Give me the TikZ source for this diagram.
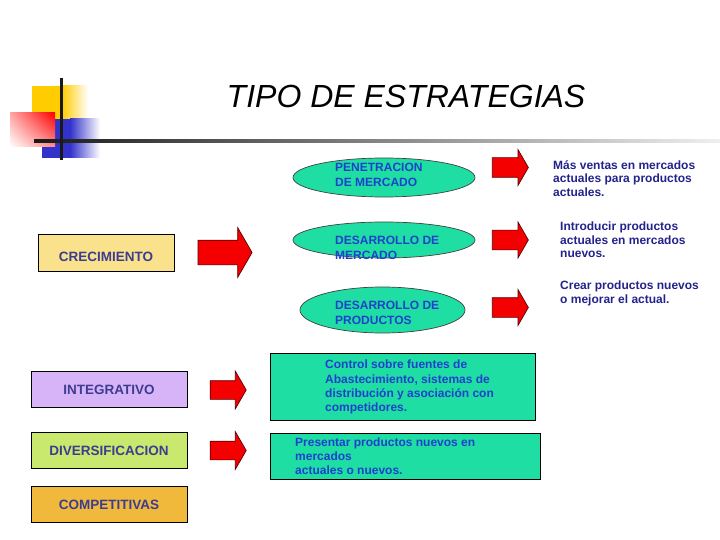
\documentclass[tikz,border=0pt]{standalone}
\usepackage{fontspec}
\setmainfont{Liberation Sans}
\definecolor{ovalgreen}{RGB}{30,222,164}
\definecolor{ovalblue}{RGB}{30,65,205}
\definecolor{boxnavy}{RGB}{60,60,145}
\definecolor{notenavy}{RGB}{35,35,140}
\definecolor{crecyellow}{RGB}{250,225,140}
\definecolor{integlila}{RGB}{215,180,248}
\definecolor{diverlime}{RGB}{200,232,110}
\definecolor{compeorange}{RGB}{240,185,60}
\definecolor{arrowred}{RGB}{245,0,0}
\definecolor{arrowedge}{RGB}{90,0,0}
\definecolor{logoyellow}{RGB}{255,204,0}
\definecolor{logoblue}{RGB}{51,51,204}
\usepackage{tikz}
\usetikzlibrary{shapes.geometric,shapes.arrows,shadings,positioning}

\begin{document}
\begin{tikzpicture}[x=1pt, y=-1pt,
    catbox/.style={draw=black, line width=0.9pt, minimum width=156, minimum height=36, inner sep=0,
      font=\fontsize{13.5}{16}\selectfont\bfseries, text=boxnavy},
    oval/.style={ellipse, draw=black!75, fill=ovalgreen, line width=0.7pt, inner sep=0},
    ovallabel/.style={anchor=west, align=left, inner sep=0, font=\fontsize{12}{15}\selectfont\bfseries, text=ovalblue},
    infobox/.style={draw=black, fill=ovalgreen, line width=0.9pt, inner sep=0},
    infolabel/.style={anchor=west, align=left, inner sep=0, font=\fontsize{12}{14.2}\selectfont\bfseries, text=ovalblue},
    note/.style={anchor=west, align=left, inner sep=0, font=\fontsize{12}{13.5}\selectfont\bfseries, text=notenavy},
    redarrow/.style={single arrow, draw=arrowedge, fill=arrowred, line width=0.7pt, inner xsep=0,
      single arrow tip angle=120, single arrow head indent=0}]
  \useasboundingbox (0,0) rectangle (720,540);
  \fill[white] (0,0) rectangle (720,540);

  % logo
  \fill[logoyellow] (32,86) rectangle (62,119);
  \shade[left color=logoyellow, right color=white] (62,86) rectangle (88,119);
  \fill[logoblue] (42,119) rectangle (70,158);
  \shade[left color=logoblue, right color=white] (70,119) rectangle (100,158);
  \shade[upper right=red, upper left=red!35, lower left=white, lower right=red!45] (10,113) rectangle (55,147);
  \shade[left color=black!90, right color=black!6] (34,139.5) rectangle (720,142.5);
  \fill[black!90] (59.5,78) rectangle (62.5,160);

  \node[font=\fontsize{32}{36}\selectfont\itshape] (title) at (406,96) {TIPO DE ESTRATEGIAS};

  % left column
  \node[catbox, fill=crecyellow, minimum width=136, minimum height=37, text height=17, text depth=0] (crec) at (106,252.5) {CRECIMIENTO};
  \node[catbox, fill=integlila] (integ) at (109,389.5) {INTEGRATIVO};
  \node[catbox, fill=diverlime] (diver) at (109,450.5) {DIVERSIFICACION};
  \node[catbox, fill=compeorange] (compe) at (109,504.5) {COMPETITIVAS};

  \node[redarrow, minimum height=54, inner ysep=12, single arrow head extend=12.5] (bigarrow) at (221.5,252.5) {};
  \node[redarrow, minimum height=36, inner ysep=9, single arrow head extend=9.5] (integarrow) at (225.5,390) {};
  \node[redarrow, minimum height=36, inner ysep=9, single arrow head extend=9.5] (diverarrow) at (225.5,450.5) {};

  % ovals
  \node[oval, minimum width=182, minimum height=39] (penet) at (384,177.5) {};
  \node[oval, minimum width=182, minimum height=36] (desmerc) at (384,240) {};
  \node[oval, minimum width=165, minimum height=46] (desprod) at (382.5,310) {};
  \node[ovallabel] (penettext) at (335,174.5) {PENETRACION\\DE MERCADO};
  \node[ovallabel] (desmerctext) at (335,248) {DESARROLLO DE\\MERCADO};
  \node[ovallabel] (desprodtext) at (335,312.5) {DESARROLLO DE\\PRODUCTOS};

  \node[redarrow, minimum height=36, inner ysep=9.5, single arrow head extend=8] (penetarrow) at (507.5,167.5) {};
  \node[redarrow, minimum height=36, inner ysep=9.5, single arrow head extend=8] (desmercarrow) at (507.5,240) {};
  \node[redarrow, minimum height=36, inner ysep=9.5, single arrow head extend=8] (desprodarrow) at (507.5,307.5) {};

  \node[note] (penetnote) at (553,178.5) {Más ventas en mercados\\actuales para productos\\actuales.};
  \node[note] (desmercnote) at (560,240) {Introducir productos\\actuales en mercados\\nuevos.};
  \node[note] (desprodnote) at (560,293.5) {Crear productos nuevos\\o mejorar el actual.};

  % boxes lower right
  \node[infobox, minimum width=265, minimum height=67] (integbox) at (402.5,386.5) {};
  \node[infobox, minimum width=270, minimum height=46] (diverbox) at (405,456) {};
  \node[infolabel] (integtext) at (325,387) {Control sobre fuentes de\\Abastecimiento, sistemas de\\distribución y asociación con\\competidores.};
  \node[infolabel] (divertext) at (295,456.5) {Presentar productos nuevos en\\mercados\\actuales o nuevos.};
\end{tikzpicture}
\end{document}
